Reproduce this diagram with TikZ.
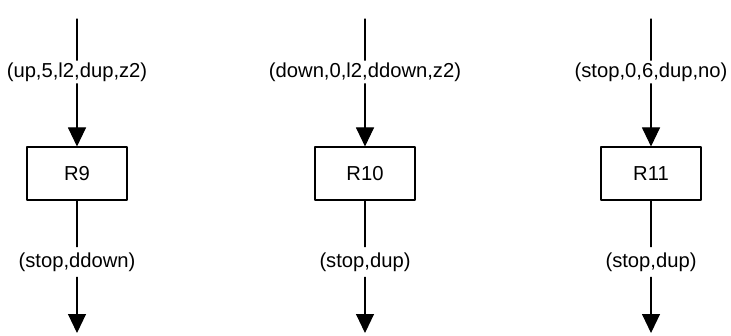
\documentclass[tikz,border=0pt]{standalone}
\usepackage{fontspec}
\setmainfont{Liberation Sans}
\usetikzlibrary{arrows.meta}

\begin{document}
\begin{tikzpicture}[line cap=round,line join=round,>={Triangle[width=0.36cm,length=0.38cm]},x=1.0cm,y=1.0cm,
  font=\fontsize{11.5}{14}\selectfont,
  every path/.style={line width=0.6pt},
  rulebox/.style={draw,minimum width=2.0cm,minimum height=1.06cm,inner sep=0pt},
  inlab/.style={inner sep=1pt},
  outlab/.style={inner sep=3pt}]

\useasboundingbox (0.,0.) rectangle (14.62,6.7);

%% R9
\coordinate (t9) at (1.54,6.32);
\node[inlab] (a9) at (1.54,5.26) {(up,5,l2,dup,z2)};
\node[rulebox] (r9) at (1.54,3.23) {R9};
\node[outlab] (b9) at (1.54,1.46) {(stop,ddown)};
\coordinate (e9) at (1.54,0.04);
\draw (t9)-- (a9);
\draw [->] (a9)-- (r9);
\draw (r9)-- (b9);
\draw [->] (b9)-- (e9);

%% R10
\coordinate (t10) at (7.3,6.32);
\node[inlab] (a10) at (7.3,5.26) {(down,0,l2,ddown,z2)};
\node[rulebox] (r10) at (7.3,3.23) {R10};
\node[outlab] (b10) at (7.3,1.46) {(stop,dup)};
\coordinate (e10) at (7.3,0.04);
\draw (t10)-- (a10);
\draw [->] (a10)-- (r10);
\draw (r10)-- (b10);
\draw [->] (b10)-- (e10);

%% R11
\coordinate (t11) at (13.02,6.32);
\node[inlab] (a11) at (13.02,5.26) {(stop,0,6,dup,no)};
\node[rulebox] (r11) at (13.02,3.23) {R11};
\node[outlab] (b11) at (13.02,1.46) {(stop,dup)};
\coordinate (e11) at (13.02,0.04);
\draw (t11)-- (a11);
\draw [->] (a11)-- (r11);
\draw (r11)-- (b11);
\draw [->] (b11)-- (e11);

\end{tikzpicture}
\end{document}
